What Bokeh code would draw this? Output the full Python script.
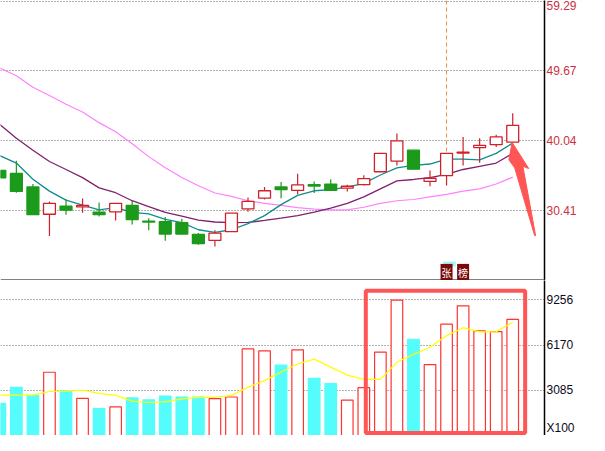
from bokeh.plotting import figure
from bokeh.layouts import column
from bokeh.models import Range1d, FixedTicker, Span, Label, BoxAnnotation, ColumnDataSource
from bokeh.embed import file_html
from bokeh.resources import INLINE

# ---------------- data ----------------
idx = list(range(32))
opens  = [35.89, 35.49, 33.62, 29.84, 30.95, 30.85, 30.14, 30.18, 31.08, 28.90, 28.81, 28.67, 27.07, 26.22, 27.43, 30.58,
          32.06, 33.62, 33.13, 33.93, 34.02, 33.45, 33.93, 35.72, 37.19, 38.70, 34.38, 35.19, 38.30, 39.06, 39.46, 39.81]
highs  = [35.89, 37.23, 34.02, 31.61, 31.92, 32.02, 31.48, 31.35, 31.70, 29.30, 29.47, 29.21, 27.24, 27.64, 30.01, 32.15,
          33.62, 34.29, 35.45, 34.38, 34.69, 33.93, 35.23, 38.26, 41.02, 38.70, 35.89, 38.26, 40.53, 40.35, 40.84, 43.82]
lows   = [34.86, 32.82, 29.78, 26.84, 29.78, 30.05, 29.52, 28.98, 28.44, 27.64, 26.17, 27.11, 25.64, 25.37, 27.43, 30.18,
          31.88, 32.06, 32.59, 32.78, 33.13, 32.99, 33.80, 35.72, 36.60, 36.07, 33.71, 33.80, 36.60, 36.96, 39.14, 39.81]
closes = [34.86, 33.00, 29.78, 31.35, 30.41, 31.08, 29.78, 31.35, 29.11, 28.77, 27.11, 27.11, 25.77, 27.24, 30.01, 31.61,
          33.09, 33.26, 33.89, 33.75, 33.13, 33.71, 34.78, 38.26, 40.00, 36.07, 34.82, 38.26, 38.44, 39.37, 40.53, 42.14]
ma5    = [37.94, 36.92, 34.69, 33.04, 31.79, 31.12, 30.45, 30.77, 30.10, 29.88, 29.12, 28.67, 27.70, 27.34, 27.70, 28.54,
          29.65, 31.17, 32.46, 33.09, 33.26, 33.58, 34.11, 35.27, 36.25, 36.60, 36.79, 37.46, 37.46, 37.37, 38.26, 39.68]
ma10   = [42.25, 40.35, 38.70, 37.14, 36.03, 34.91, 33.49, 32.82, 31.71, 30.90, 30.10, 29.57, 29.03, 28.77, 28.67, 28.71,
          28.98, 29.30, 29.65, 30.14, 30.68, 31.35, 32.24, 33.35, 34.46, 34.65, 34.91, 35.36, 36.03, 36.47, 36.92, 38.26]
ma20   = [50.07, 49.00, 47.40, 46.26, 45.06, 43.99, 42.51, 41.24, 39.60, 37.81, 36.26, 34.92, 33.79, 32.78, 32.32, 31.71,
          31.35, 31.08, 30.75, 30.54, 30.45, 30.45, 30.81, 31.35, 31.71, 31.88, 32.24, 32.59, 33.04, 33.35, 34.02, 34.98]
volume = [2188, 3282, 2735, 4311, 3019, 2538, 1838, 1948, 2560, 2429, 2691, 2626, 2626, 2516, 2626, 5908,
          5776, 4792, 5842, 3894, 3545, 2407, 3260, 5689, 9234, 6564, 4836, 7592, 8839, 7132, 7088, 7920]
vol_ma = [2757, 2757, 2757, 3000, 3019, 3085, 2868, 2737, 2343, 2251, 2297, 2494, 2606, 2606, 2737, 3282,
          3741, 4332, 4877, 5205, 4660, 4116, 3827, 3827, 4989, 5533, 6019, 6807, 7352, 7069, 7069, 7726]
price_ticks = [30.41, 40.04, 49.67, 59.29]
price_labels = ["30.41", "40.04", "49.67", "59.29"]
vol_ticks = [3085, 6170, 9256]
vol_labels = ["3085", "6170", "9256"]
unit_label = "X100"
unit_tick = 500
tag_labels = ["张", "榜"]
cross_idx = 27

# annotation shapes (data units)
arrow_x = [30.965, 31.965, 31.612, 32.382, 32.324, 31.118, 30.765]
arrow_y = [39.773, 36.168, 36.475, 26.889, 26.889, 36.262, 37.370]

RED = "#d0202a"
GREEN = "#1b9a1b"
VRED = "#ff3333"
CYAN = "#55fcfc"
FONT = "Liberation Sans"

up = [c >= o for o, c in zip(opens, closes)]
src = ColumnDataSource(dict(
    x=idx, high=highs, low=lows,
    top=[max(o, c) for o, c in zip(opens, closes)],
    bottom=[min(o, c) for o, c in zip(opens, closes)],
    line=[RED if u else GREEN for u in up],
    fill=["white" if u else GREEN for u in up],
    vol=volume,
    vline=[VRED if u else CYAN for u in up],
    vfill=["white" if u else CYAN for u in up],
))

xr = Range1d(0.041, 32.92)


def style_axis(ax, color):
    ax.major_label_text_color = color
    ax.major_label_text_font = FONT
    ax.major_label_text_font_size = "12px"
    ax.major_label_standoff = 2
    ax.major_tick_in = 0
    ax.major_tick_out = 0
    ax.minor_tick_in = 0
    ax.minor_tick_out = 0
    ax.axis_line_color = "black"
    ax.axis_line_width = 1.5


# ---------------- price panel ----------------
p = figure(width=589, height=280, x_range=xr, y_range=Range1d(20.68, 59.40),
           toolbar_location=None, output_backend="svg",
           x_axis_location=None, y_axis_location="right",
           min_border_left=0, min_border_right=45, min_border_top=0, min_border_bottom=0,
           outline_line_color=None)
p.xgrid.visible = False
ax = p.yaxis[0]
ax.ticker = FixedTicker(ticks=price_ticks)
ax.major_label_overrides = dict(zip(price_ticks, price_labels))
style_axis(ax, "#cc3040")
p.ygrid.grid_line_color = "#666666"
p.ygrid.grid_line_dash = "1 2"

p.add_layout(Span(location=20.815, dimension="width", line_color="#808080", line_width=1))

p.line(idx, ma20, line_color="#ff80ff", line_width=1.2)
p.line(idx, ma10, line_color="#80206e", line_width=1.3)
p.line(idx, ma5, line_color="#0f8c8c", line_width=1.3)

p.segment(x0=[cross_idx], y0=[59.40], x1=[cross_idx], y1=[closes[cross_idx]],
          line_color="#f08c3c", line_width=1, line_dash="4 3")

p.segment(x0="x", y0="low", x1="x", y1="high", line_color="line", line_width=1.2, source=src)
p.vbar(x="x", top="top", bottom="bottom", width=0.72, fill_color="fill", line_color="line",
       line_width=1.3, source=src)

p.patch(arrow_x, arrow_y, fill_color="#ff5555", line_color="#ff5555", line_width=1)

p.add_layout(BoxAnnotation(left=cross_idx - 0.2, right=cross_idx + 0.55, bottom=22.6, top=23.3,
                           fill_color="#a8f4f4", fill_alpha=1, line_color=None))
for i, t in enumerate(tag_labels):
    p.add_layout(Label(x=cross_idx + i, y=21.8, text=t, text_align="center", text_baseline="middle",
                       text_color="white", text_font="Noto Sans CJK SC", text_font_size="10px",
                       background_fill_color="#7a0a0a", padding=1))

# ---------------- volume panel ----------------
v = figure(width=589, height=155, x_range=xr, y_range=Range1d(0, 10568),
           toolbar_location=None, output_backend="svg",
           x_axis_location=None, y_axis_location="right",
           min_border_left=0, min_border_right=45, min_border_top=0, min_border_bottom=0,
           outline_line_color=None)
v.xgrid.visible = False
vx = v.yaxis[0]
vx.ticker = FixedTicker(ticks=[unit_tick] + vol_ticks)
vx.major_label_overrides = dict(zip([unit_tick] + vol_ticks, [unit_label] + vol_labels))
style_axis(vx, "#0a0a20")
v.ygrid.ticker = FixedTicker(ticks=vol_ticks)
v.ygrid.grid_line_color = "#666666"
v.ygrid.grid_line_dash = "1 2"

v.vbar(x="x", top="vol", bottom=0, width=0.7, fill_color="vfill", line_color="vline",
       line_width=1.2, source=src)
v.line(idx, vol_ma, line_color="#ffff00", line_width=1.2)

v.add_layout(BoxAnnotation(left=22.12, right=31.75, bottom=177, top=9866,
                           fill_alpha=0, line_color="#ff5555", line_alpha=1, line_width=4))

layout = column(p, v, spacing=0)
open("out.html", "w").write(file_html(layout, INLINE))
